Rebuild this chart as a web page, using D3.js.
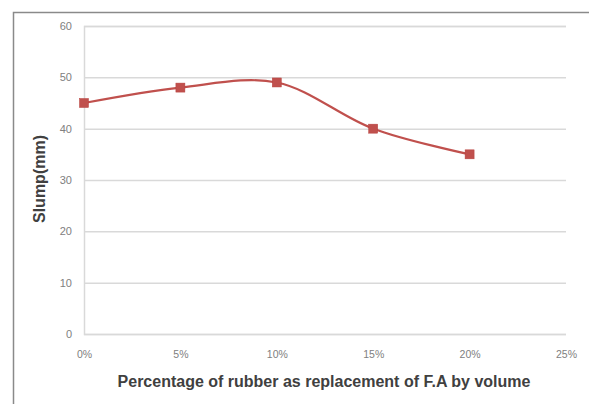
<!DOCTYPE html>
<html>
<head>
<meta charset="utf-8">
<script src="https://cdn.jsdelivr.net/npm/d3@7/dist/d3.min.js"></script>
<style>
  html, body { margin: 0; padding: 0; background: #fff; }
  svg { display: block; }
</style>
</head>
<body>
<svg id="chart" width="589" height="404"></svg>
<script>
// Rubber replacement (% of fine aggregate by volume) and measured slump (mm)
const replacement = [0, 5, 10, 15, 20];
const slump = [45, 48, 49, 40, 35];
const xTicks = [0, 5, 10, 15, 20, 25];
const yTicks = [0, 10, 20, 30, 40, 50, 60];
const xTitle = "Percentage of rubber as replacement of F.A by volume";
const yTitle = "Slump(mm)";

const svg = d3.select("#chart");
const plot = { left: 84, right: 566, top: 26, bottom: 334 };

const x = d3.scaleLinear().domain([0, 25]).range([plot.left, plot.right]);
const y = d3.scaleLinear().domain([0, 60]).range([plot.bottom, plot.top]);

// Outer chart frame (top and left edges visible)
svg.append("path")
  .attr("d", "M13.5,404 V12.5 H589")
  .attr("fill", "none")
  .attr("stroke", "#8a8a8a")
  .attr("stroke-width", 1.5);

// Horizontal gridlines and y tick labels
const yAxis = d3.axisLeft(y)
  .tickValues(yTicks)
  .tickSize(-(plot.right - plot.left))
  .tickPadding(12)
  .tickFormat(d3.format("d"));

const gy = svg.append("g")
  .attr("transform", `translate(${plot.left},0)`)
  .call(yAxis);
gy.select(".domain")
  .attr("stroke", "#d9d9d9")
  .attr("stroke-width", 1.5);
gy.selectAll(".tick line")
  .attr("stroke", "#d9d9d9")
  .attr("stroke-width", 1.5);
gy.selectAll(".tick text")
  .attr("fill", "#808080")
  .attr("font-family", "Liberation Sans, Arial, sans-serif")
  .attr("font-size", 11);

// X tick labels
const xAxis = d3.axisBottom(x)
  .tickValues(xTicks)
  .tickSize(0)
  .tickPadding(17)
  .tickFormat(d => d + "%");

const gx = svg.append("g")
  .attr("transform", `translate(0,${plot.bottom})`)
  .call(xAxis);
gx.select(".domain").remove();
gx.selectAll(".tick text")
  .attr("fill", "#808080")
  .attr("font-family", "Liberation Sans, Arial, sans-serif")
  .attr("font-size", 10.5);

// Smoothed series line
const data = replacement.map((r, i) => ({ r, s: slump[i] }));
const line = d3.line()
  .x(d => x(d.r))
  .y(d => y(d.s))
  .curve(d3.curveCatmullRom.alpha(0.5));

svg.append("path")
  .datum(data)
  .attr("d", line)
  .attr("fill", "none")
  .attr("stroke", "#c0504d")
  .attr("stroke-width", 2.2);

// Square markers
const m = 9;
svg.append("g")
  .selectAll("rect")
  .data(data)
  .join("rect")
  .attr("x", d => x(d.r) - m / 2)
  .attr("y", d => y(d.s) - m / 2)
  .attr("width", m)
  .attr("height", m)
  .attr("fill", "#c0504d")
  .attr("stroke", "#b8403d")
  .attr("stroke-width", 0.5);

// Axis titles
svg.append("text")
  .attr("x", 324)
  .attr("y", 387)
  .attr("text-anchor", "middle")
  .attr("font-family", "Liberation Sans, Arial, sans-serif")
  .attr("font-weight", "bold")
  .attr("font-size", 16)
  .attr("fill", "#404040")
  .text(xTitle);

svg.append("text")
  .attr("transform", "translate(45,179) rotate(-90)")
  .attr("text-anchor", "middle")
  .attr("font-family", "Liberation Sans, Arial, sans-serif")
  .attr("font-weight", "bold")
  .attr("font-size", 16)
  .attr("fill", "#404040")
  .text(yTitle);
</script>
</body>
</html>
